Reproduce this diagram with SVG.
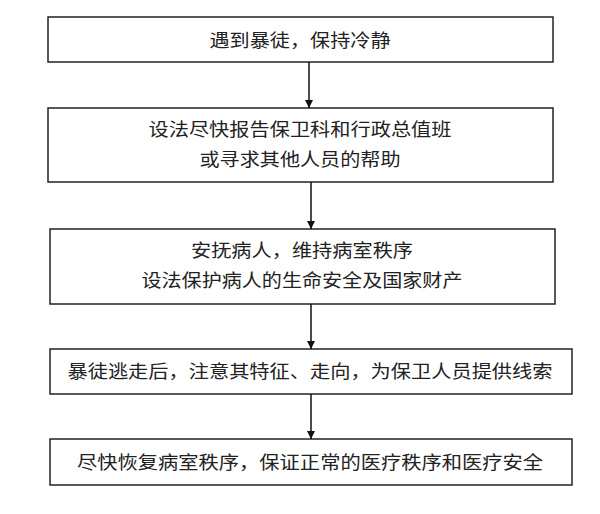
<svg xmlns="http://www.w3.org/2000/svg" width="600" height="514" viewBox="0 0 600 514">
<style>
rect{fill:#fff;stroke:#222;stroke-width:1.5}
text{font-family:"Noto Sans CJK SC","Liberation Sans",sans-serif;font-size:18px;fill:#222;text-anchor:middle}
line{stroke:#111;stroke-width:1.5}
</style>
<defs><marker id="a" viewBox="0 0 10 10" refX="10" refY="5" markerWidth="8" markerHeight="8" markerUnits="userSpaceOnUse" orient="auto"><path d="M0,0L10,5L0,10z" fill="#111"/></marker></defs>
<rect width="600" height="514" style="stroke:none"/>
<g id="n1"><rect x="48" y="17" width="505" height="45"/><text x="300" y="47" textLength="181" lengthAdjust="spacingAndGlyphs">遇到暴徒，保持冷静</text></g>
<g id="n2"><rect x="48" y="108" width="505" height="74"/><text x="300" y="136" textLength="303" lengthAdjust="spacingAndGlyphs">设法尽快报告保卫科和行政总值班</text><text x="300" y="166" textLength="201" lengthAdjust="spacingAndGlyphs">或寻求其他人员的帮助</text></g>
<g id="n3"><rect x="50" y="229" width="505" height="75"/><text x="302" y="257" textLength="222" lengthAdjust="spacingAndGlyphs">安抚病人，维持病室秩序</text><text x="302" y="287" textLength="321" lengthAdjust="spacingAndGlyphs">设法保护病人的生命安全及国家财产</text></g>
<g id="n4"><rect x="50" y="349" width="522" height="45"/><text x="310" y="378" textLength="485" lengthAdjust="spacingAndGlyphs">暴徒逃走后，注意其特征、走向，为保卫人员提供线索</text></g>
<g id="n5"><rect x="50" y="439" width="522" height="46"/><text x="310" y="469" textLength="466" lengthAdjust="spacingAndGlyphs">尽快恢复病室秩序，保证正常的医疗秩序和医疗安全</text></g>
<g id="connectors">
<line x1="309" y1="62" x2="309" y2="108" marker-end="url(#a)"/>
<line x1="311" y1="182" x2="311" y2="229" marker-end="url(#a)"/>
<line x1="311" y1="304" x2="311" y2="349" marker-end="url(#a)"/>
<line x1="311" y1="394" x2="311" y2="439" marker-end="url(#a)"/>
</g>
</svg>
